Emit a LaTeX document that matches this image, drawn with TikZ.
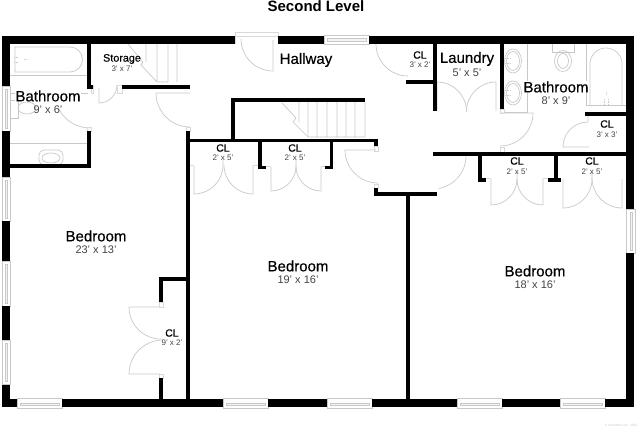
\documentclass[tikz,border=0pt]{standalone}
\usepackage{fontspec}
\setmainfont{Liberation Sans}
\newfontfamily\roomfont[FakeBold=0.4]{Liberation Sans}
\usetikzlibrary{positioning}
\definecolor{linegrey}{HTML}{C8C8C8}
\definecolor{dimgrey}{HTML}{444444}

\begin{document}
\begin{tikzpicture}[x=1pt,y=-1pt,node distance=13.5pt,
    outer/.style={line width=8pt,black},
    inner/.style={line width=3.8pt,black,line join=miter},
    fixture/.style={draw=linegrey,line width=.7pt},
    jamb/.style={draw=linegrey!70,line width=.5pt},
    pane/.style={draw=linegrey,line width=.4pt,fill=linegrey!20},
    room/.style={inner sep=0pt,font=\roomfont\fontsize{15}{15}\selectfont},
    roomhalo/.style={room,fill=white},
    closet/.style={inner sep=0pt,font=\roomfont\fontsize{10.5}{10.5}\selectfont},
    dimbig/.style={inner sep=0pt,text=dimgrey,font=\fontsize{11}{11}\selectfont},
    dimsmall/.style={inner sep=0pt,text=dimgrey,font=\fontsize{8}{8}\selectfont}]
    \useasboundingbox (0,0) rectangle (640,428);

    % fixtures, left bathroom
    \draw[fixture] (15,47) -- (70,47) arc[start angle=-90,end angle=90,radius=12.5] -- (15,72) -- cycle;
    \draw[fixture] (10,75) -- (87,75) (10,143) -- (88,143) (10,93) -- (88,93);
    \draw[fixture] (10,100) rectangle (18,118);
    \draw[fixture] (27,108) ellipse[x radius=9,y radius=6];
    \draw[fixture,rounded corners=5pt] (39,150) rectangle (63,165);
    \draw[fixture] (51,158) ellipse[x radius=9,y radius=5];
    \draw[fixture,densely dotted] (14,57) -- (19,57) (14,62) -- (19,62) (24,59) -- (26,59);

    % stairs
    \draw[fixture] (128,44) -- (143,62) -- (141,65) -- (157,82) -- (168,82)
        (146,43) -- (146,62) (157,43) -- (157,82) (168,43) -- (168,82) (177,43) -- (177,82);
    \draw[fixture] (282,103) -- (296,118) -- (293,122) -- (308,137) -- (365,137) -- (365,102)
        (299,102) -- (299,122) (308,102) -- (308,137) (317,102) -- (317,137) (327,102) -- (327,137)
        (337,102) -- (337,137) (346,102) -- (346,137) (355,102) -- (355,137);

    % fixtures, right bathroom
    \draw[fixture] (527,43) -- (527,112) -- (504,112);
    \draw[fixture] (513,61) ellipse[x radius=8.5,y radius=12] (513,61) ellipse[x radius=6.5,y radius=9.5];
    \draw[fixture] (513,93) ellipse[x radius=8.5,y radius=12] (513,93) ellipse[x radius=6.5,y radius=9.5];
    \draw[fixture,densely dotted] (505,58) -- (511,58) (505,63) -- (511,63) (505,90) -- (511,90) (505,95) -- (511,95);
    \draw[fixture] (552,43) rectangle (574,52);
    \draw[fixture] (563,61) ellipse[x radius=8.5,y radius=10.5] (563,61) ellipse[x radius=5.5,y radius=7.5];
    \draw[fixture] (586,43) -- (586,105) -- (626,105);
    \draw[fixture] (590,105) -- (590,64) arc[start angle=180,end angle=360,radius=16] -- (622,105);
    \draw[fixture,densely dotted] (604,99) -- (604,105) (608,99) -- (608,105) (606,92) -- (606,94);

    % doors
    \draw[fixture] (273,40) -- (273,71) arc[start angle=90,end angle=180,radius=32];
    \draw[fixture] (99,88) -- (99,103) arc[start angle=90,end angle=0,radius=18];
    \draw[fixture] (90,128) arc[start angle=90,end angle=155,radius=35];
    \draw[fixture] (190,93) -- (156,93) arc[start angle=180,end angle=90,radius=34];
    \draw[fixture] (376,44) arc[start angle=180,end angle=90,radius=32];
    \draw[fixture] (437,111) -- (437,82) arc[start angle=-90,end angle=0,radius=29.5];
    \draw[fixture] (496,111) -- (496,82) arc[start angle=-90,end angle=-180,radius=29.5];
    \draw[fixture] (500,113) -- (533,113) arc[start angle=0,end angle=90,radius=33];
    \draw[fixture] (589,147) -- (563,147) arc[start angle=180,end angle=270,radius=25] -- (588,116);
    \draw[fixture] (376,150) -- (345,150) arc[start angle=180,end angle=90,radius=33];
    \draw[fixture] (466,156) arc[start angle=0,end angle=80,radius=33];

    % closet doors
    \draw[fixture] (194,166) -- (194,194) arc[start angle=90,end angle=0,radius=29] -- (223,160);
    \draw[fixture] (253,166) -- (253,194) arc[start angle=90,end angle=180,radius=29];
    \draw[fixture] (271,167) -- (271,191) arc[start angle=90,end angle=0,radius=25] -- (296,160);
    \draw[fixture] (321,167) -- (321,191) arc[start angle=90,end angle=180,radius=25];
    \draw[fixture] (491,179) -- (491,205) arc[start angle=90,end angle=0,radius=26] -- (517,172);
    \draw[fixture] (543,179) -- (543,205) arc[start angle=90,end angle=180,radius=26];
    \draw[fixture] (563,179) -- (563,208) arc[start angle=90,end angle=0,radius=29] -- (592,172);
    \draw[fixture] (622,179) -- (622,208) arc[start angle=90,end angle=180,radius=30];
    \draw[fixture] (160,307) -- (129,307) arc[start angle=180,end angle=90,radius=32];
    \draw[fixture] (160,374) -- (129,374) arc[start angle=180,end angle=270,radius=34];

    % door jambs
    \draw[jamb] (235,32) rectangle (278,36) (235,36) -- (235,44) (278,36) -- (278,44);
    \draw[jamb] (91,85) rectangle (93,93) (117,85) rectangle (122,93);
    \draw[jamb] (87,127) rectangle (91,131) (186,127) rectangle (190,131);
    \draw[jamb] (189,165) -- (194,165) (253,165) -- (258,165);
    \draw[jamb] (266,166) -- (271,166) (321,166) -- (325,166);
    \draw[jamb] (486,178) -- (491,178) (543,178) -- (548,178);
    \draw[jamb] (374,146) rectangle (378,151) (374,184) rectangle (378,188);
    \draw[jamb] (159,302) rectangle (163,307) (159,374) rectangle (163,378);
    \draw[jamb] (500,109) rectangle (504,113) (500,147) rectangle (504,152);

    % windows
    \draw[fixture] (17,398) rectangle (62,408) (223,398) rectangle (268,408) (327,398) rectangle (372,408)
        (457,398) rectangle (502,408) (560,398) rectangle (605,408) (324,35) rectangle (369,44);
    \draw[fixture] (2,86) rectangle (10,131) (2,177) rectangle (10,221) (2,261) rectangle (10,306)
        (2,340) rectangle (10,384) (626,209) rectangle (635,253);
    \draw[pane] (20,403) rectangle (59,405) (226,403) rectangle (265,405) (330,403) rectangle (369,405)
        (460,403) rectangle (499,405) (563,403) rectangle (602,405) (327,38) rectangle (366,41);
    \draw[pane] (5,89) rectangle (7,128) (5,180) rectangle (7,218) (5,264) rectangle (7,303)
        (5,343) rectangle (7,381) (630,212) rectangle (632,250);

    % outer walls
    \draw[outer] (2,40) -- (235,40) (278,40) -- (324,40) (369,40) -- (634,40);
    \draw[outer] (6,36) -- (6,86) (6,131) -- (6,177) (6,221) -- (6,261) (6,306) -- (6,340) (6,385) -- (6,407);
    \draw[outer] (2,403) -- (17,403) (62,403) -- (223,403) (268,403) -- (327,403) (372,403) -- (457,403)
        (502,403) -- (560,403) (605,403) -- (634,403);
    \draw[outer] (630,36) -- (630,209) (630,253) -- (630,407);

    % inner walls
    \draw[inner] (89,43) -- (89,87) -- (93,87) (122,87) -- (190,87);
    \draw[inner] (89,131) -- (89,166) -- (10,166);
    \draw[inner] (188,131) -- (188,403);
    \draw[inner] (188,140.5) -- (376,140.5) -- (376,146);
    \draw[inner] (233,140) -- (233,100) -- (365,100);
    \draw[inner] (260,140) -- (260,167.5) -- (266,167.5) (331.5,140) -- (331.5,167.5) -- (325,167.5);
    \draw[inner] (376,188) -- (376,194) -- (437,194) (408,194) -- (408,403);
    \draw[inner] (433,154) -- (630,154);
    \draw[inner] (480,154) -- (480,180) -- (486,180) (556,154) -- (556,180) (548,180) -- (561,180);
    \draw[inner] (435,43) -- (435,111) (406,82) -- (435,82);
    \draw[inner] (502,43) -- (502,109);
    \draw[inner] (585,114) -- (630,114);
    \draw[inner] (161,302) -- (161,279) -- (188,279) (161,378) -- (161,403);

    % labels
    \node[inner sep=0pt,font=\bfseries\fontsize{15}{15}\selectfont] (title) at (316,6) {Second Level};
    \node[closet,font=\roomfont\fontsize{10.8}{10.8}\selectfont] (storage) at (122,59) {Storage};
    \node[dimsmall] (storagedim) [below of=storage,node distance=9.5pt] {3' x 7'};
    \node[roomhalo] (bath1) at (48,96) {Bathroom};
    \node[dimbig] (bath1dim) [below of=bath1] {9' x 6'};
    \node[room] (hallway) at (306,60) {Hallway};
    \node[closet] (cl1) at (420,55) {CL};
    \node[dimsmall] (cl1dim) [below of=cl1,node distance=9.5pt] {3' x 2'};
    \node[room] (laundry) at (467,59) {Laundry};
    \node[dimbig] (laundrydim) [below of=laundry] {5' x 5'};
    \node[roomhalo] (bath2) at (556,87) {Bathroom};
    \node[dimbig] (bath2dim) [below of=bath2] {8' x 9'};
    \node[closet] (cl2) at (607,124) {CL};
    \node[dimsmall] (cl2dim) [below of=cl2,node distance=10.5pt] {3' x 3'};
    \node[closet] (cl3) at (223,148) {CL};
    \node[dimsmall] (cl3dim) [below of=cl3,node distance=9.5pt] {2' x 5'};
    \node[closet] (cl4) at (295,148) {CL};
    \node[dimsmall] (cl4dim) [below of=cl4,node distance=9.5pt] {2' x 5'};
    \node[closet] (cl5) at (517,161) {CL};
    \node[dimsmall] (cl5dim) [below of=cl5,node distance=10.5pt] {2' x 5'};
    \node[closet] (cl6) at (592,161) {CL};
    \node[dimsmall] (cl6dim) [below of=cl6,node distance=10.5pt] {2' x 5'};
    \node[closet] (cl7) at (172,333) {CL};
    \node[dimsmall] (cl7dim) [below of=cl7,node distance=9.5pt] {9' x 2'};
    \node[room] (bed1) at (96,236) {Bedroom};
    \node[dimbig] (bed1dim) [below of=bed1] {23' x 13'};
    \node[room] (bed2) at (298,266) {Bedroom};
    \node[dimbig] (bed2dim) [below of=bed2] {19' x 16'};
    \node[room] (bed3) at (535,271) {Bedroom};
    \node[dimbig] (bed3dim) [below of=bed3] {18' x 16'};
    \node[inner sep=0pt,text=linegrey,font=\fontsize{3.2}{3.2}\selectfont] (credit) at (621,426) {© ShowMist, Inc. 2023};
\end{tikzpicture}
\end{document}
